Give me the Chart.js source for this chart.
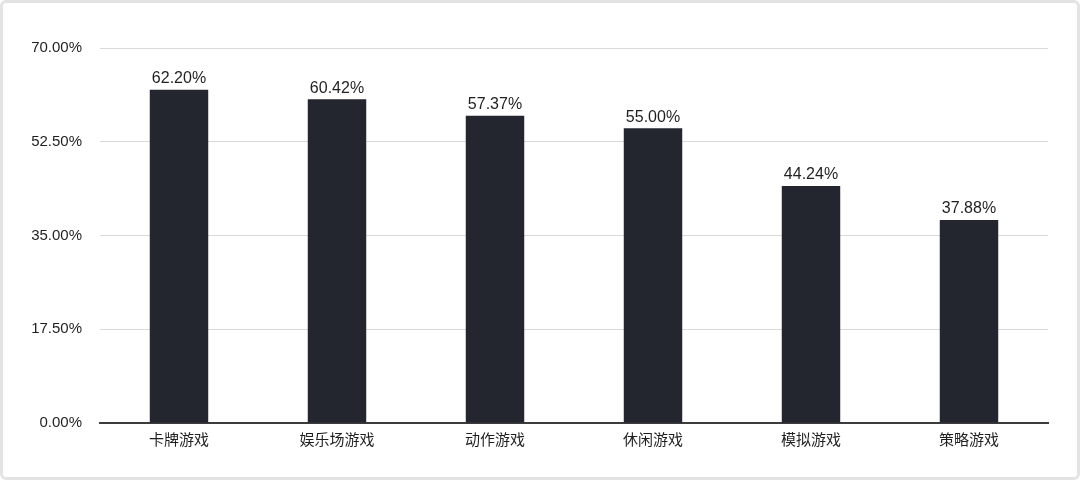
<!DOCTYPE html>
<html>
<head>
<meta charset="utf-8">
<script src="https://cdn.jsdelivr.net/npm/chart.js@4/dist/chart.umd.min.js"></script>
<style>
  html, body { margin: 0; padding: 0; background: #ffffff; }
  .frame {
    position: relative;
    width: 1080px;
    height: 480px;
    box-sizing: border-box;
    border: 3px solid #e3e3e3;
    border-radius: 6px;
    overflow: hidden;
  }
  .frame canvas { position: absolute; left: -3px; top: -3px; }
</style>
</head>
<body>
<div class="frame">
  <canvas id="chart" width="1080" height="480"></canvas>
</div>
<script>
const categories = ["卡牌游戏", "娱乐场游戏", "动作游戏", "休闲游戏", "模拟游戏", "策略游戏"]
const shares = [62.20, 60.42, 57.37, 55.00, 44.24, 37.88]
const yTicks = [0, 17.5, 35, 52.5, 70]

const fontFamily = "'Liberation Sans', 'Noto Sans CJK SC', Arial, sans-serif"

const valueLabels = {
  id: "valueLabels",
  afterDatasetsDraw(chart) {
    const ctx = chart.ctx
    const meta = chart.getDatasetMeta(0)
    ctx.save()
    ctx.font = "16px " + fontFamily
    ctx.fillStyle = "#1f1f1f"
    ctx.textAlign = "center"
    ctx.textBaseline = "bottom"
    meta.data.forEach((bar, i) => {
      ctx.fillText(shares[i].toFixed(2) + "%", bar.x, bar.y - 3)
    })
    ctx.restore()
  }
}

new Chart(document.getElementById("chart"), {
  type: "bar",
  data: {
    labels: categories,
    datasets: [{
      data: shares,
      backgroundColor: "#23252f",
      borderWidth: 0,
      categoryPercentage: 1,
      barPercentage: 0.37
    }]
  },
  options: {
    responsive: false,
    animation: false,
    devicePixelRatio: 1,
    layout: { padding: { top: 48, right: 32, bottom: 0, left: 0 } },
    plugins: {
      legend: { display: false },
      tooltip: { enabled: false }
    },
    scales: {
      x: {
        grid: { display: false, drawTicks: false },
        border: { display: true, color: "#3c3c3c", width: 2 },
        ticks: {
          color: "#1f1f1f",
          padding: 9,
          font: { size: 15, family: fontFamily }
        },
        afterFit: (scale) => { scale.height = 57 }
      },
      y: {
        min: 0,
        max: 70,
        afterBuildTicks: (scale) => { scale.ticks = yTicks.map(v => ({ value: v })) },
        grid: { color: "#d9d9d9", lineWidth: 1, drawTicks: false },
        border: { display: false },
        ticks: {
          color: "#1f1f1f",
          padding: 18,
          font: { size: 15, family: fontFamily },
          callback: (v) => Number(v).toFixed(2) + "%"
        },
        afterFit: (scale) => { scale.width = 100 }
      }
    }
  },
  plugins: [valueLabels]
})
</script>
</body>
</html>
